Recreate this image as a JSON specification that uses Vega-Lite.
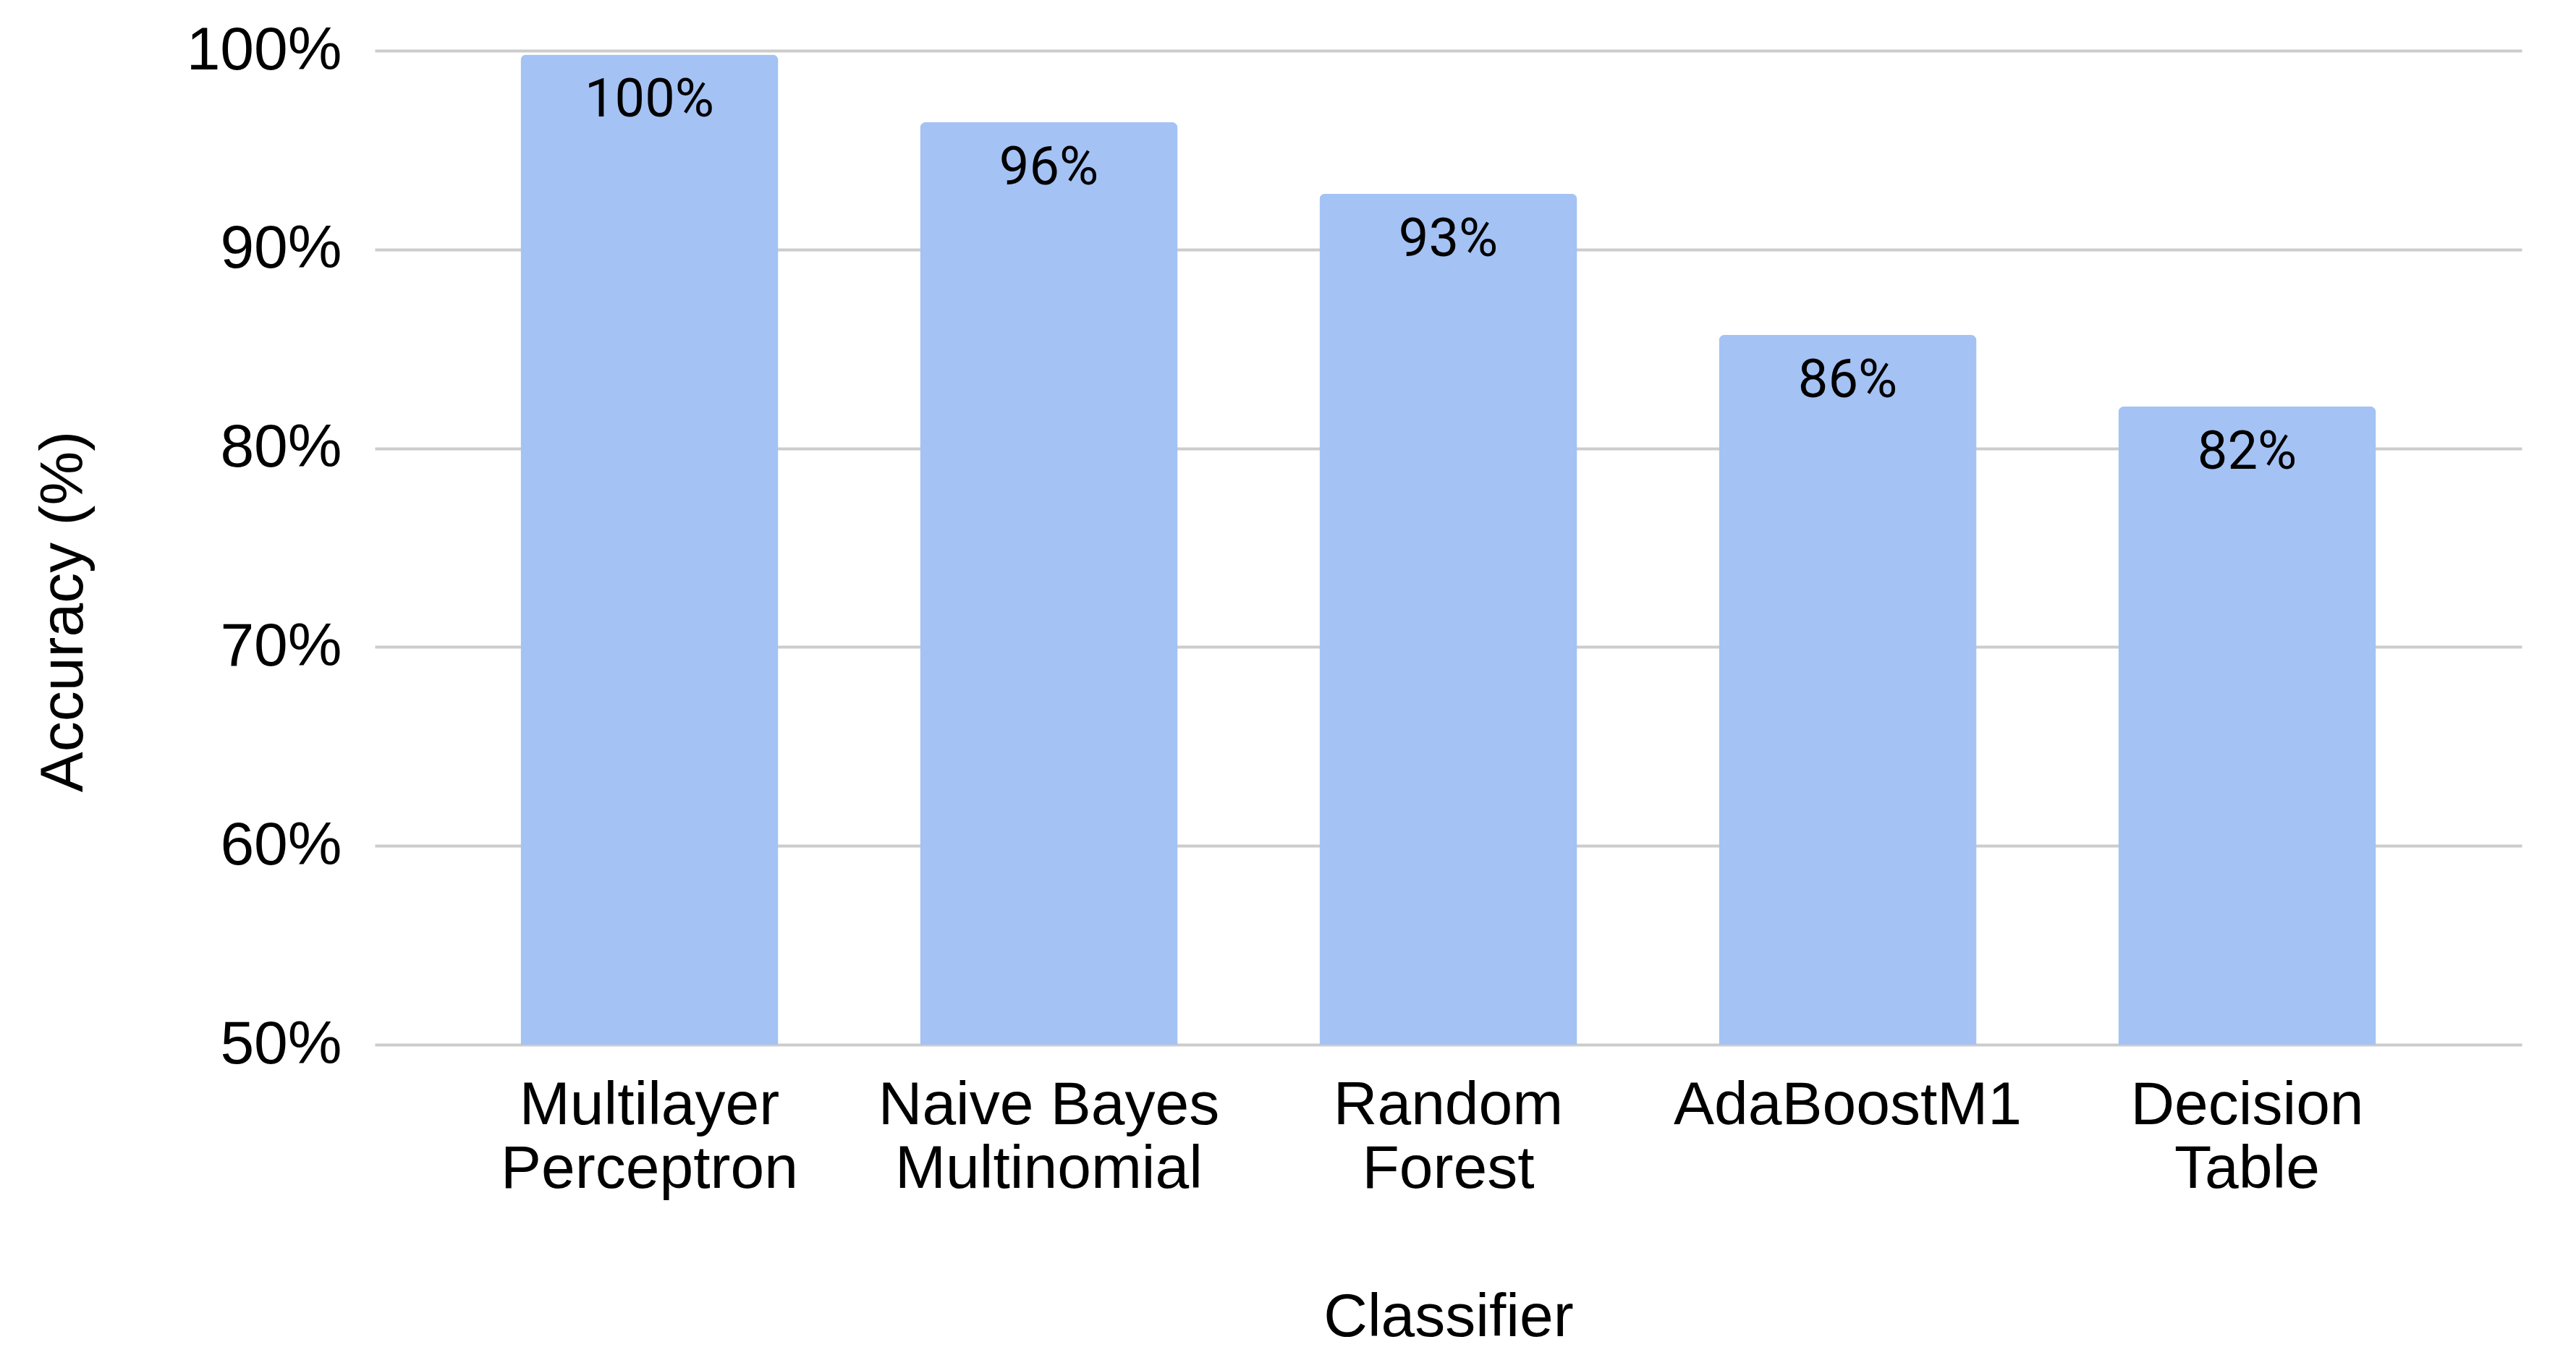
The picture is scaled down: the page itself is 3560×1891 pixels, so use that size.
{
  "$schema": "https://vega.github.io/schema/vega-lite/v6.json",
  "autosize": {"type": "none"},
  "width": 2967,
  "height": 1374,
  "padding": {"left": 518, "top": 70, "right": 75, "bottom": 447},
  "background": "#ffffff",
  "data": {
    "values": [
      {"classifier": "Multilayer Perceptron", "accuracy": 0.998},
      {"classifier": "Naive Bayes Multinomial", "accuracy": 0.964},
      {"classifier": "Random Forest", "accuracy": 0.928},
      {"classifier": "AdaBoostM1", "accuracy": 0.857},
      {"classifier": "Decision Table", "accuracy": 0.821}
    ]
  },
  "encoding": {
    "x": {
      "field": "classifier",
      "type": "nominal",
      "sort": null,
      "scale": {"paddingInner": 0.355, "paddingOuter": 0.365},
      "axis": {
        "title": "Classifier",
        "labelAngle": 0,
        "labelExpr": "datum.label == 'Naive Bayes Multinomial' ? ['Naive Bayes', 'Multinomial'] : split(datum.label, ' ')",
        "labelFont": "Liberation Sans",
        "labelFontSize": 84,
        "labelLineHeight": 88,
        "labelColor": "#000000",
        "labelPadding": 43,
        "labelLimit": 1000,
        "ticks": false,
        "domain": false,
        "grid": false,
        "titleFont": "Liberation Sans",
        "titleFontSize": 84,
        "titleFontWeight": "normal",
        "titleColor": "#000000",
        "titlePadding": 136
      }
    },
    "y": {
      "field": "accuracy",
      "type": "quantitative",
      "scale": {"domain": [0.5, 1.0], "clamp": true, "nice": false, "zero": false},
      "axis": {
        "title": "Accuracy (%)",
        "format": ".0%",
        "values": [0.5, 0.6, 0.7, 0.8, 0.9, 1.0],
        "labelFont": "Liberation Sans",
        "labelFontSize": 84,
        "labelColor": "#000000",
        "labelPadding": 46,
        "labelLimit": 1000,
        "ticks": false,
        "domain": false,
        "grid": true,
        "gridColor": "#cccccc",
        "gridWidth": 4,
        "titleFont": "Liberation Sans",
        "titleFontSize": 84,
        "titleFontWeight": "normal",
        "titleColor": "#000000",
        "titlePadding": 187,
        "titleY": 775
      }
    }
  },
  "layer": [
    {
      "mark": {"type": "bar", "color": "#a4c2f4", "cornerRadiusTopLeft": 8, "cornerRadiusTopRight": 8}
    },
    {
      "mark": {"type": "text", "baseline": "top", "dy": 28, "font": "Roboto", "fontSize": 74, "color": "#000000"},
      "encoding": {
        "text": {"field": "accuracy", "type": "quantitative", "format": ".0%"}
      }
    }
  ],
  "config": {"view": {"stroke": null}}
}
